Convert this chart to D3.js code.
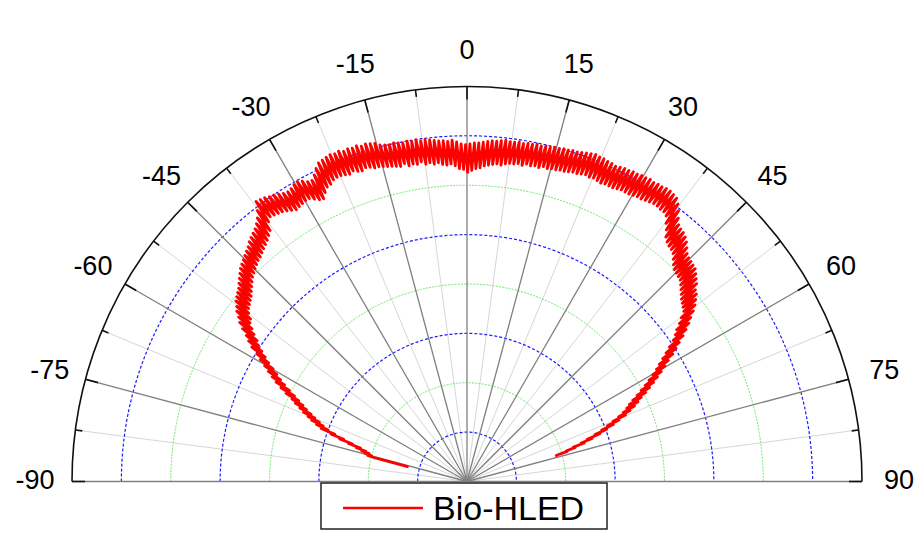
<!DOCTYPE html>
<html><head><meta charset="utf-8">
<script src="https://cdn.jsdelivr.net/npm/d3@7"></script>
<style>body{margin:0;background:#fff}svg{display:block}</style>
</head><body>
<svg id="chart" width="922" height="534"></svg>
<script>
// ---------- data ----------
const angleTicks = [-90,-75,-60,-45,-30,-15,0,15,30,45,60,75,90];
const angleTickLabels = ["-90","-75","-60","-45","-30","-15","0","15","30","45","60","75","90"];
const minorAngles = [-82.5,-67.5,-52.5,-37.5,-22.5,-7.5,7.5,22.5,37.5,52.5,67.5,82.5];
const ringValues = [50,100,150,200,250,300,350];
const radialMax = 400;
const seriesName = "Bio-HLED";
const angleStart = -76, angleStep = 0.375;   // angle of first sample, spacing (deg)
const intensity = [
  61, 96,104,100,107,103,111,107,
 117,113,126,122,136,132,146,142,
 157,150,163,156,169,161,174,167,
 180,172,185,178,191,183,196,189,
 204,195,211,202,218,209,224,215,
 230,221,236,227,243,234,249,240,
 257,246,263,252,268,256,275,262,
 281,267,285,272,290,274,293,279,
 297,282,299,284,301,286,303,288,
 306,291,309,294,312,297,315,300,
 317,302,319,304,321,306,323,308,
 325,309,328,311,330,313,332,315,
 334,317,337,320,341,323,347,331,
 355,334,354,333,353,332,351,331,
 350,329,348,327,346,325,345,326,
 346,327,348,328,349,328,347,325,
 344,322,343,321,347,326,352,330,
 356,331,357,334,358,335,359,335,
 358,334,359,333,357,335,358,333,
 357,332,358,334,356,333,357,331,
 356,331,355,330,352,329,351,328,
 350,327,351,326,350,328,349,325,
 350,326,349,325,350,327,348,324,
 349,325,348,323,347,324,346,322,
 346,321,345,322,346,320,344,317,
 342,316,341,313,342,315,343,317,
 343,318,344,320,345,321,346,322,
 346,323,347,322,348,324,347,325,
 347,325,348,326,347,325,348,327,
 348,326,349,327,348,326,349,328,
 349,327,350,328,350,328,351,329,
 351,329,352,330,352,331,353,331,
 354,332,355,333,356,332,355,333,
 355,332,354,331,354,332,353,332,
 354,332,355,333,355,334,356,334,
 356,334,357,335,357,336,358,336,
 357,337,358,338,358,339,359,339,
 359,338,358,338,357,336,353,330,
 348,325,342,319,337,316,335,314,
 334,313,332,311,329,307,325,303,
 321,300,319,299,318,298,317,297,
 316,294,313,291,310,288,307,285,
 302,283,300,281,296,279,292,273,
 287,268,281,262,276,258,270,253,
 264,246,257,240,251,234,245,228,
 238,223,232,217,226,211,220,205,
 214,199,208,193,202,187,196,182,
 191,178,186,173,180,167,174,160,
 166,153,159,146,151,138,143,129,
 134,122,125,113,115,105,106, 96,
  93
];

// ---------- layout ----------
const cx = 467, cy = 481.5, R = 395, labelR = 432;
const rScale = d3.scaleLinear().domain([0, radialMax]).range([0, R]);
const aScale = d3.scaleLinear().domain([-90, 90]).range([-Math.PI/2, Math.PI/2]);
const svg = d3.select("#chart");
svg.append("rect").attr("width",922).attr("height",534).attr("fill","#fff");
const g = svg.append("g").attr("transform", `translate(${cx},${cy})`);

function semicircle(r){ const p = d3.path(); p.arc(0,0,r,Math.PI,2*Math.PI); return p.toString(); }
const px = (a, r) => r * Math.sin(aScale(a));
const py = (a, r) => -r * Math.cos(aScale(a));

// minor spokes
g.selectAll("line.minor").data(minorAngles).join("line").attr("class","minor")
  .attr("x1",0).attr("y1",0)
  .attr("x2",d=>px(d,R)).attr("y2",d=>py(d,R))
  .attr("stroke","#d6d6d6").attr("stroke-width",1);

// rings
g.selectAll("path.ring").data(ringValues).join("path").attr("class","ring")
  .attr("d", d => semicircle(rScale(d)))
  .attr("fill","none")
  .attr("stroke",(d,i)=> i%2===0 ? "#1a1aff" : "#6fe86f")
  .attr("stroke-width",(d,i)=> i%2===0 ? 1.2 : 1)
  .attr("stroke-dasharray",(d,i)=> i%2===0 ? "3,2" : "2,1.2");

// major spokes
g.selectAll("line.major").data(angleTicks).join("line").attr("class","major")
  .attr("x1",0).attr("y1",0)
  .attr("x2",d=>px(d,R)).attr("y2",d=>py(d,R))
  .attr("stroke","#808080").attr("stroke-width",1.3);

// outer arc
g.append("path").attr("d", semicircle(R)).attr("fill","none")
  .attr("stroke","#111").attr("stroke-width",1.6);

// ticks
g.selectAll("line.tmaj").data(angleTicks).join("line").attr("class","tmaj")
  .attr("x1",d=>px(d,R-13)).attr("y1",d=>py(d,R-13))
  .attr("x2",d=>px(d,R)).attr("y2",d=>py(d,R))
  .attr("stroke","#111").attr("stroke-width",1.6);
g.selectAll("line.tmin").data(minorAngles).join("line").attr("class","tmin")
  .attr("x1",d=>px(d,R-7)).attr("y1",d=>py(d,R-7))
  .attr("x2",d=>px(d,R)).attr("y2",d=>py(d,R))
  .attr("stroke","#111").attr("stroke-width",1.6);

// labels
g.selectAll("text.alab").data(angleTicks).join("text").attr("class","alab")
  .attr("x",d=>px(d,labelR)).attr("y",(d)=>py(d,labelR) - (Math.abs(d)===90 ? 1.5 : 0))
  .attr("text-anchor","middle").attr("dominant-baseline","central")
  .attr("font-family","'Liberation Sans', Arial, sans-serif").attr("font-size",27)
  .attr("fill","#000")
  .text((d,i)=>angleTickLabels[i]);

// data curve
const pts = intensity.map((v,i)=>[angleStart + i*angleStep, v]);
const line = d3.lineRadial().angle(d=>aScale(d[0])).radius(d=>rScale(d[1]));
g.append("path").datum(pts).attr("d", line)
  .attr("fill","none").attr("stroke","#ff0000").attr("stroke-width",2.8)
  .attr("stroke-linejoin","round");

// legend
const lg = svg.append("g");
lg.append("rect").attr("x",321).attr("y",483).attr("width",286).attr("height",46)
  .attr("fill","#fff").attr("stroke","#222").attr("stroke-width",1.5);
lg.append("line").attr("x1",343).attr("x2",423).attr("y1",508).attr("y2",508)
  .attr("stroke","#ff0000").attr("stroke-width",2.6);
lg.append("text").attr("x",433).attr("y",520)
  .attr("font-family","'Liberation Sans', Arial, sans-serif").attr("font-size",34)
  .attr("fill","#000").text(seriesName);
</script>
</body></html>
